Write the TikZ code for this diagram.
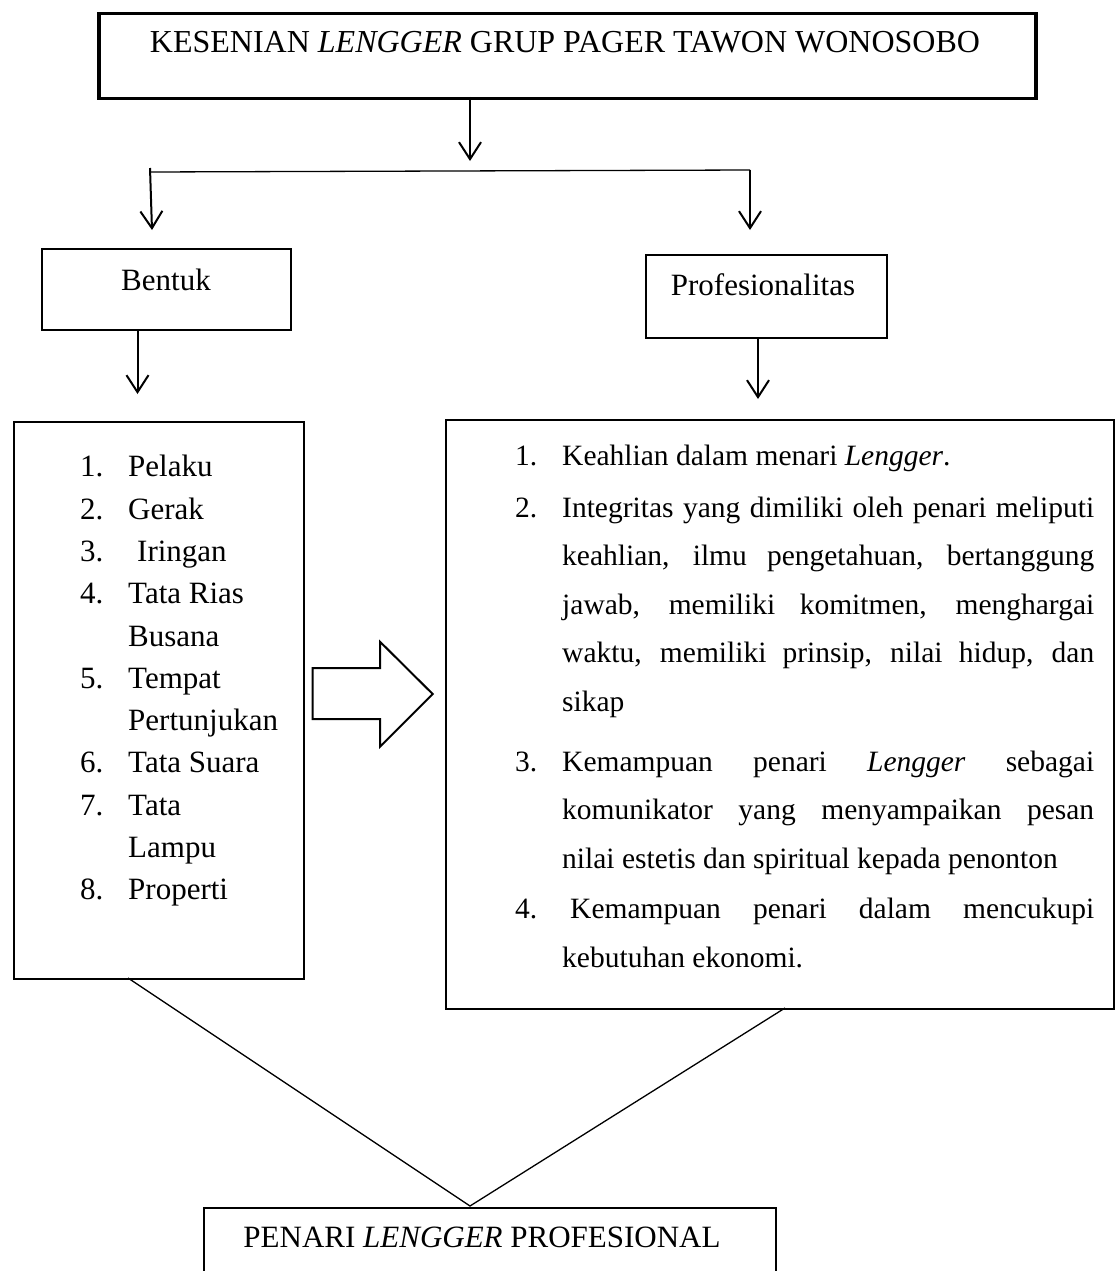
\documentclass[tikz,border=0pt]{standalone}
\usepackage{fontspec}
\setmainfont{Liberation Serif}
\usetikzlibrary{arrows.meta}
\begin{document}
\begin{tikzpicture}[x=1pt,y=-1pt,
  box/.style={draw, line width=2.2pt, rectangle, inner sep=0pt, anchor=north west},
  tbox/.style={draw, line width=3.5pt, rectangle, inner sep=0pt, anchor=north west},
  txt/.style={inner sep=0pt, anchor=base, font=\fontsize{31pt}{31pt}\selectfont},
  ttxt/.style={inner sep=0pt, anchor=base, font=\fontsize{32pt}{32pt}\selectfont},
  ltxt/.style={inner sep=0pt, anchor=base west, font=\fontsize{31pt}{31pt}\selectfont},
  rtxt/.style={inner sep=0pt, anchor=base west, font=\fontsize{29.5pt}{29.5pt}\selectfont},
  arr/.style={line width=2pt, -{Straight Barb[length=17pt,width=22pt,line width=2pt]}},
  thinline/.style={line width=1.3pt},
  hollow/.style={draw, line width=2pt, line join=miter}]
\useasboundingbox (0,0) rectangle (1117,1271);

% boxes
\node[tbox, minimum width=937pt, minimum height=85pt] (title) at (97,12) {};
\node[box, minimum width=249pt, minimum height=81pt] (bentuk) at (41,248) {};
\node[box, minimum width=241pt, minimum height=83pt] (prof) at (645,254) {};
\node[box, minimum width=290.5pt, minimum height=557pt] (lbox) at (12.5,421) {};
\node[box, minimum width=668pt, minimum height=589pt] (rbox) at (445,419) {};
\node[box, minimum width=572.5pt, minimum height=90pt] (bbox) at (202.5,1207) {};

% box texts
\node[ttxt] (titletxt) at (565,53) {KESENIAN \textit{LENGGER} GRUP PAGER TAWON WONOSOBO};
\node[txt] (bentuktxt) at (166,290) {Bentuk};
\node[txt] (proftxt) at (763,295) {Profesionalitas};
\node[txt] (btxt) at (482,1247) {PENARI \textit{LENGGER} PROFESIONAL};

% left list
\node[ltxt] (l1n) at (80,476) {1.};  \node[ltxt] (l1) at (128,476) {Pelaku};
\node[ltxt] (l2n) at (80,519) {2.};  \node[ltxt] (l2) at (128,519) {Gerak};
\node[ltxt] (l3n) at (80,561) {3.};  \node[ltxt] (l3) at (137,561) {Iringan};
\node[ltxt] (l4n) at (80,603) {4.};  \node[ltxt] (l4) at (128,603) {Tata Rias};
\node[ltxt] (l4b) at (128,646) {Busana};
\node[ltxt] (l5n) at (80,688) {5.};  \node[ltxt] (l5) at (128,688) {Tempat};
\node[ltxt] (l5b) at (128,730) {Pertunjukan};
\node[ltxt] (l6n) at (80,772) {6.};  \node[ltxt] (l6) at (128,772) {Tata Suara};
\node[ltxt] (l7n) at (80,815) {7.};  \node[ltxt] (l7) at (128,815) {Tata};
\node[ltxt] (l7b) at (128,857) {Lampu};
\node[ltxt] (l8n) at (80,899) {8.};  \node[ltxt] (l8) at (128,899) {Properti};

% right list
\node[rtxt] (r1n) at (515,465) {1.};
\node[rtxt] (r1) at (562,465) {Keahlian dalam menari \textit{Lengger}.};
\node[rtxt] (r2n) at (515,517) {2.};
\node[rtxt] (r2a) at (562,517) {\makebox[532pt][s]{Integritas yang dimiliki oleh penari meliputi}};
\node[rtxt] (r2b) at (562,565.5) {\makebox[532pt][s]{keahlian, ilmu pengetahuan, bertanggung}};
\node[rtxt] (r2c) at (562,614) {\makebox[532pt][s]{jawab, memiliki komitmen, menghargai}};
\node[rtxt] (r2d) at (562,662.5) {\makebox[532pt][s]{waktu, memiliki prinsip, nilai hidup, dan}};
\node[rtxt] (r2e) at (562,711) {sikap};
\node[rtxt] (r3n) at (515,771) {3.};
\node[rtxt] (r3a) at (562,771) {\makebox[532pt][s]{Kemampuan penari \textit{Lengger} sebagai}};
\node[rtxt] (r3b) at (562,819.5) {\makebox[532pt][s]{komunikator yang menyampaikan pesan}};
\node[rtxt] (r3c) at (562,868) {nilai estetis dan spiritual kepada penonton};
\node[rtxt] (r4n) at (515,918) {4.};
\node[rtxt] (r4a) at (570,918) {\makebox[524pt][s]{Kemampuan penari dalam mencukupi}};
\node[rtxt] (r4b) at (562,967) {kebutuhan ekonomi.};

% connector coordinates
\coordinate (tbot) at (470,97);
\coordinate (mtip) at (470,161);
\coordinate (hl) at (150,172);
\coordinate (hr) at (750,170);
\coordinate (ltip) at (152,230);
\coordinate (rtip) at (750,230);
\coordinate (bbot) at (137.5,329);
\coordinate (btip) at (137.5,394);
\coordinate (pbot) at (758,337);
\coordinate (ptip) at (758,399);
\coordinate (lstart) at (128,978);
\coordinate (rstart) at (785,1008);
\coordinate (apex) at (470,1206);

% connectors
\draw[arr] (tbot) -- (mtip);
\draw[thinline] (hl) -- (hr);
\draw[arr] ([yshift=4pt]hl) -- (ltip);
\draw[arr] (hr) -- (rtip);
\draw[arr] (bbot) -- (btip);
\draw[arr] (pbot) -- (ptip);
\draw[thinline] (lstart) -- (apex) -- (rstart);

% hollow block arrow
\draw[hollow] (312.7,668) -- (380,668) -- (380,641.7) -- (432.7,694) -- (380,746.7) -- (380,719) -- (312.7,719) -- cycle;
\end{tikzpicture}
\end{document}
